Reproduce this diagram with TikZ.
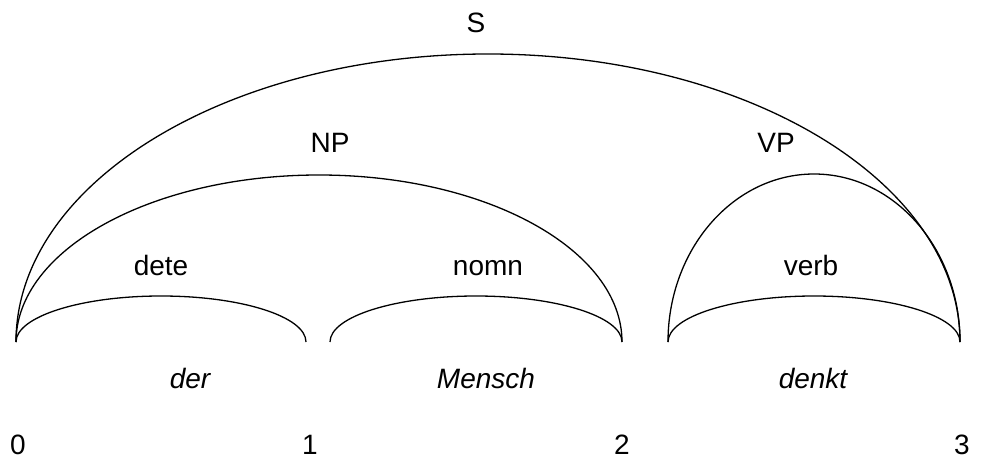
\documentclass[tikz,border=0pt]{standalone}
\usepackage{fontspec}
\setmainfont{Liberation Sans}
\begin{document}
\begin{tikzpicture}[x=1pt,y=1pt,
  lbl/.style={anchor=base,inner sep=0pt,font=\fontsize{28}{32}\selectfont},
  wrd/.style={lbl,font=\fontsize{28}{32}\selectfont\itshape},
  edge/.style={draw=black,line width=1.3pt}]
\useasboundingbox (0,0) rectangle (993,459);
% positions
\coordinate (p0) at (16,117);
\coordinate (p1b) at (330,117);
\coordinate (p2b) at (668,117);
% arcs
\draw[edge] (p0) arc[start angle=180,end angle=0,x radius=145,y radius=46];
\draw[edge] (p1b) arc[start angle=180,end angle=0,x radius=146,y radius=46];
\draw[edge] (p2b) arc[start angle=180,end angle=0,x radius=146,y radius=46];
\draw[edge] (p0) arc[start angle=180,end angle=0,x radius=303,y radius=167];
\draw[edge] (p2b) arc[start angle=180,end angle=0,x radius=146,y radius=168];
\draw[edge] (p0) arc[start angle=180,end angle=0,x radius=472,y radius=288];
% labels
\node[lbl] (S) at (476,426) {S};
\node[lbl] (NP) at (330,307) {NP};
\node[lbl] (VP) at (776,307) {VP};
\node[lbl] (dete) at (161,184) {dete};
\node[lbl] (nomn) at (488,184) {nomn};
\node[lbl] (verb) at (811,184) {verb};
\node[wrd] (der) at (190,71) {der};
\node[wrd] (Mensch) at (486,71) {Mensch};
\node[wrd] (denkt) at (813,71) {denkt};
\node[lbl] (n0) at (18,5) {0};
\node[lbl] (n1) at (310,5) {1};
\node[lbl] (n2) at (622,5) {2};
\node[lbl] (n3) at (962,5) {3};
\end{tikzpicture}
\end{document}
